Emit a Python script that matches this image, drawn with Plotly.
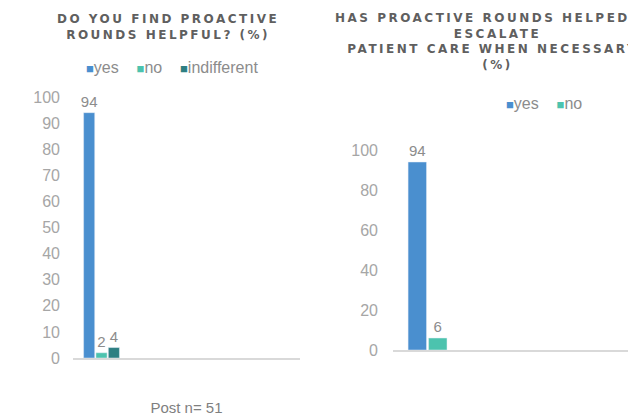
import plotly.graph_objects as go

# ---- data ----
left_title = "DO YOU FIND PROACTIVE<br>ROUNDS HELPFUL? (%)"
right_title = "HAS PROACTIVE ROUNDS HELPED TO<br>ESCALATE<br>PATIENT CARE WHEN NECESSARY?<br>(%)"
left_series = ["yes", "no", "indifferent"]
left_values = [94, 2, 4]
right_series = ["yes", "no"]
right_values = [94, 6]
group_x = [0]
x_label = "Post n= 51"
left_ticks = [0, 10, 20, 30, 40, 50, 60, 70, 80, 90, 100]
right_ticks = [0, 20, 40, 60, 80, 100]

colors = {"yes": "#4A8FCF", "no": "#4CC3AE", "indifferent": "#2E7F82"}
tick_color = "#A6A6A6"
label_color = "#8C8C8C"
title_color = "#5F5F5F"

W, H = 628, 418


def px_x(p):
    return p / W


def px_y(p):
    return (H - p) / H


fig = go.Figure()

for name, v in zip(left_series, left_values):
    fig.add_trace(go.Bar(
        x=group_x, y=[v], name=name, marker_color=colors[name],
        text=[str(v)], textposition="outside", cliponaxis=False, constraintext="none",
        textfont=dict(size=15, color=label_color, family="Liberation Sans"),
        xaxis="x", yaxis="y", showlegend=False,
    ))

for name, v in zip(right_series, right_values):
    fig.add_trace(go.Bar(
        x=group_x, y=[v], name=name, marker_color=colors[name],
        text=[str(v)], textposition="outside", cliponaxis=False, constraintext="none",
        textfont=dict(size=15, color=label_color, family="Liberation Sans"),
        xaxis="x2", yaxis="y2", showlegend=False,
    ))


def legend_text(names):
    parts = []
    for n in names:
        parts.append('<span style="font-size:13px;color:%s">■</span>%s' % (colors[n], n))
    return "\u00a0\u00a0\u00a0\u00a0".join(parts)


def spaced_title(t):
    sp = '<span style="letter-spacing:2.5px">'
    return "<b>" + sp + t.replace("<br>", "</span><br>" + sp) + "</span></b>"


axis_common = dict(showgrid=False, zeroline=False, automargin=False)

fig.update_layout(
    width=W, height=H,
    margin=dict(l=0, r=0, t=0, b=0, autoexpand=False),
    paper_bgcolor="white", plot_bgcolor="white",
    barmode="group", bargap=0.35, bargroupgap=0.1,
    font=dict(family="Liberation Sans", color=label_color),
    showlegend=False,
    xaxis=dict(domain=[px_x(73), px_x(300)], range=[-0.5, 3.48],
               showticklabels=False, ticks="", showline=True,
               linecolor="#D9D9D9", linewidth=2, anchor="y",
               title=dict(text=x_label, font=dict(size=15, color="#7F7F7F"), standoff=43),
               **axis_common),
    yaxis=dict(domain=[px_y(358), px_y(97)], range=[0, 100], tickvals=left_ticks,
               tickfont=dict(size=16, color=tick_color), ticks="", ticklabelstandoff=12,
               showline=False, anchor="x", **axis_common),
    xaxis2=dict(domain=[px_x(393), 1.0], range=[-0.548, 3.18],
                showticklabels=False, ticks="", showline=True,
                linecolor="#D9D9D9", linewidth=2, anchor="y2", **axis_common),
    yaxis2=dict(domain=[px_y(350), px_y(150)], range=[0, 100], tickvals=right_ticks,
                tickfont=dict(size=16, color=tick_color), ticks="", ticklabelstandoff=14,
                showline=False, anchor="x2", **axis_common),
    annotations=[
        dict(text=spaced_title(left_title), x=px_x(168), y=px_y(27), xref="paper", yref="paper",
             xanchor="center", yanchor="middle", showarrow=False,
             font=dict(size=12, color=title_color, family="DejaVu Sans"), align="center"),
        dict(text=spaced_title(right_title), x=px_x(497), y=px_y(42), xref="paper", yref="paper",
             xanchor="center", yanchor="middle", showarrow=False,
             font=dict(size=12, color=title_color, family="DejaVu Sans"), align="center"),
        dict(text=legend_text(left_series), x=px_x(172), y=px_y(67), xref="paper", yref="paper",
             xanchor="center", yanchor="middle", showarrow=False,
             font=dict(size=16, color=label_color)),
        dict(text=legend_text(right_series), x=px_x(544), y=px_y(104), xref="paper", yref="paper",
             xanchor="center", yanchor="middle", showarrow=False,
             font=dict(size=16, color=label_color)),
    ],
)

# remove the default page margin so the 628x418 figure fills the window exactly
fig.write_html(
    "out.html",
    config={"displayModeBar": False},
    post_script="document.body.style.margin='0';document.body.style.overflow='hidden';",
)
